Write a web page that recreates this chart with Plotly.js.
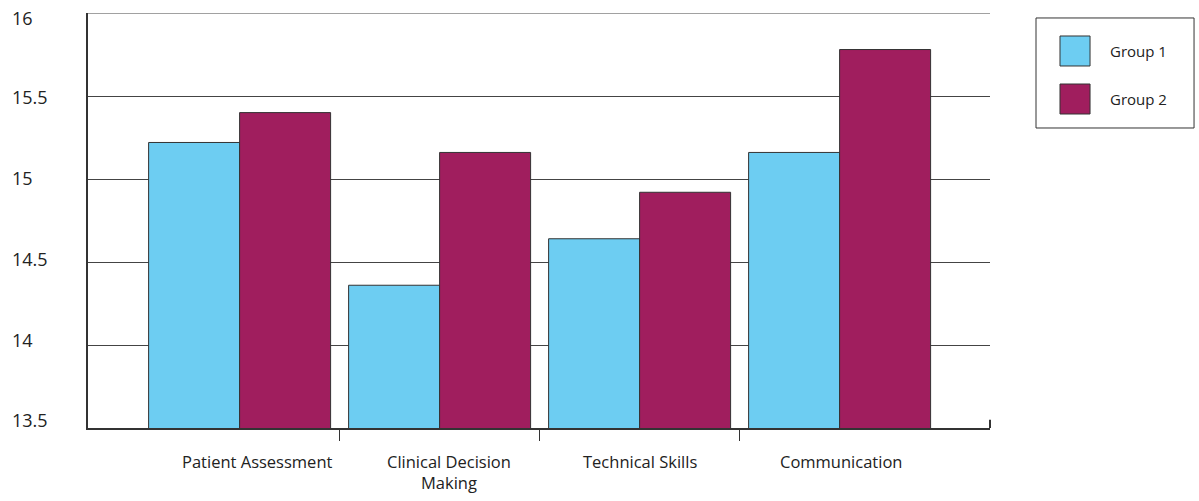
<!DOCTYPE html>
<html>
<head>
<meta charset="utf-8">
<script src="https://cdn.plot.ly/plotly-3.0.1.min.js"></script>
<style>html,body{margin:0;padding:0;background:#fff;}#chart{width:1199px;height:501px;}</style>
</head>
<body>
<div id="chart"></div>
<script>
const categories = ["Patient Assessment", "Clinical Decision Making", "Technical Skills", "Communication"];
const categoryLabels = ["Patient Assessment", "Clinical Decision<br>Making", "Technical Skills", "Communication"];
const group1Values = [15.22, 14.36, 14.64, 15.16];
const group2Values = [15.40, 15.16, 14.92, 15.78];
const seriesNames = ["Group 1", "Group 2"];
const seriesColors = ["#6dcdf2", "#a01e5e"];
const yTickValues = [16, 15.5, 15, 14.5, 14, 13.5];
const yTickLabels = ["16", "15.5", "15", "14.5", "14", "13.5"];

const FONT = "Open Sans, Lato, sans-serif";
const lineCol = "#333333";

const traces = [
  {type: "bar", name: seriesNames[0], x: categories, y: group1Values,
   marker: {color: seriesColors[0], line: {color: lineCol, width: 1}}, hoverinfo: "x+y+name"},
  {type: "bar", name: seriesNames[1], x: categories, y: group2Values,
   marker: {color: seriesColors[1], line: {color: lineCol, width: 1}}, hoverinfo: "x+y+name"},
  // invisible helper on the overlay axis so boundary ticks render
  {type: "scatter", x: [0.5, 1.5, 2.5], y: [13.5, 13.5, 13.5], xaxis: "x2", yaxis: "y",
   mode: "markers", marker: {opacity: 0}, hoverinfo: "skip", showlegend: false}
];

// x-label offsets relative to category centre (pixels)
const labelShift = [18, 9, 0, 1];
// y-label vertical offsets (pixels)
const yLabelShift = [-5, -1, 1, 3, 5, 8];

const annotations = [];
categories.forEach((c, i) => {
  annotations.push({
    x: c, xref: "x", y: 0, yref: "paper", yanchor: "top", xanchor: "center",
    yshift: -20, xshift: labelShift[i], text: categoryLabels[i], showarrow: false,
    font: {family: FONT, size: 16.5, color: "#222"}, align: "center"
  });
});
yTickValues.forEach((v, i) => {
  annotations.push({
    x: -0.0865, xref: "paper", xanchor: "left", y: v, yref: "y", yanchor: "middle",
    yshift: yLabelShift[i],
    text: yTickLabels[i], showarrow: false, font: {family: FONT, size: 18, color: "#222"}
  });
});
// custom legend (large swatches)
const legX0 = 1.0510, legX1 = 1.2262, legY0 = 0.7229, legY1 = 0.9880;
const swX0 = 1.0776, swX1 = 1.1109;
const swY = [[0.8723, 0.9446], [0.7566, 0.8289]];
const txtY = [0.9084, 0.7928];
const shapes = [
  {type: "rect", xref: "paper", yref: "paper", x0: legX0, x1: legX1, y0: legY0, y1: legY1,
   line: {color: lineCol, width: 1}, fillcolor: "rgba(0,0,0,0)"},
  // small upward tick at right end of x axis
  {type: "line", xref: "paper", yref: "paper", x0: 1, x1: 1, y0: 0, y1: 0.02,
   line: {color: lineCol, width: 2}},
  // top gridline at the axis maximum
  {type: "line", xref: "paper", yref: "y", x0: 0, x1: 1, y0: yTickValues[0], y1: yTickValues[0],
   line: {color: "#444", width: 1}, layer: "below"}
];
seriesNames.forEach((n, i) => {
  shapes.push({type: "rect", xref: "paper", yref: "paper", x0: swX0, x1: swX1,
    y0: swY[i][0], y1: swY[i][1], fillcolor: seriesColors[i], line: {color: lineCol, width: 1}});
  annotations.push({x: 1.1308, xref: "paper", xanchor: "left", y: txtY[i], yref: "paper",
    yanchor: "middle", text: n, showarrow: false, font: {family: FONT, size: 15, color: "#222"}});
});

const layout = {
  width: 1199, height: 501,
  margin: {l: 88, r: 209, t: 13, b: 73, pad: 0},
  paper_bgcolor: "#fff", plot_bgcolor: "#fff",
  font: {family: FONT, size: 16, color: "#222"},
  barmode: "group", bargap: 0.09, bargroupgap: 0,
  showlegend: false,
  xaxis: {type: "category", range: [-0.758, 3.752], showticklabels: false, ticks: "",
          showgrid: false, showline: true, linecolor: lineCol, linewidth: 2,
          zeroline: false, fixedrange: true},
  xaxis2: {type: "linear", overlaying: "x", anchor: "y", side: "bottom", range: [-0.758, 3.752],
           tickvals: [0.5, 1.5, 2.5], ticks: "outside", ticklen: 12, tickwidth: 1.5,
           tickcolor: lineCol, showticklabels: false, showgrid: false, showline: false,
           zeroline: false, fixedrange: true},
  yaxis: {range: [13.5, 16], tickvals: yTickValues, showticklabels: false, ticks: "",
          showgrid: true, gridcolor: "#444", gridwidth: 1, showline: true, linecolor: lineCol,
          linewidth: 2, zeroline: false, fixedrange: true},
  shapes: shapes,
  annotations: annotations
};

Plotly.newPlot("chart", traces, layout, {displayModeBar: false, staticPlot: true});
</script>
</body>
</html>
